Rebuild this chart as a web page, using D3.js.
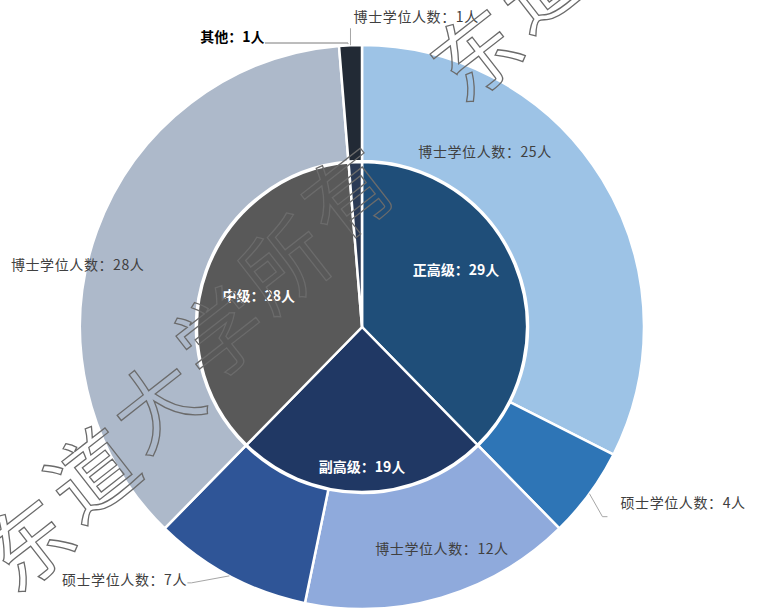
<!DOCTYPE html>
<html>
<head>
<meta charset="utf-8">
<script src="https://cdn.jsdelivr.net/npm/d3@7"></script>
<style>
  body { margin: 0; background: #fff; }
  svg { font-family: "Noto Sans CJK SC", "Noto Sans", sans-serif; }
</style>
</head>
<body>
<svg width="758" height="610"></svg>
<script>
// inner ring: 职称
const levels = ["正高级", "副高级", "中级", "其他"];
const levelCounts = [29, 19, 28, 1];
const levelColors = ["#1f4e79", "#203864", "#595959", "#2b3a55"];

// outer ring: 学位
const degreeNames = ["博士学位人数", "硕士学位人数", "博士学位人数", "硕士学位人数", "博士学位人数", "博士学位人数"];
const degreeCounts = [25, 4, 12, 7, 28, 1];
const degreeColors = ["#9dc3e6", "#2e75b6", "#8faadc", "#2f5597", "#adb9ca", "#222a35"];

const watermark = ["东", "道", "大", "学", "所", "有", "", "东", "道"];

const svg = d3.select("svg");
const cx = 362, cy = 327;
const rInner = 165, rOuter = 282;

const root = svg.append("g").attr("transform", `translate(${cx},${cy})`);

const pie = d3.pie().sort(null).value(d => d);
const innerArcs = pie(levelCounts);
const outerArcs = pie(degreeCounts);

const innerArc = d3.arc().innerRadius(0).outerRadius(rInner);
const outerArc = d3.arc().innerRadius(rInner + 1).outerRadius(rOuter);

const toXY = (deg, r) => {
  const a = deg * Math.PI / 180;
  return [r * Math.sin(a), -r * Math.cos(a)];
};
const midDeg = d => (d.startAngle + d.endAngle) / 2 * 180 / Math.PI;

// 其他 leader line (drawn under the rings)
{
  const d = innerArcs[3];
  const p = toXY(midDeg(d), rInner - 6);
  root.append("polyline")
    .attr("points", [[-97, -284], [-14, -284], p].map(q => q.join(",")).join(" "))
    .attr("fill", "none")
    .attr("stroke", "#a6a6a6")
    .attr("stroke-width", 1);
}

/* outer ring */
root.selectAll(".outer")
  .data(outerArcs)
  .enter().append("path")
  .attr("class", "outer")
  .attr("d", outerArc)
  .attr("fill", (d, i) => degreeColors[i])
  .attr("stroke", "#fff")
  .attr("stroke-width", 2.5);

/* inner pie */
root.selectAll(".inner")
  .data(innerArcs)
  .enter().append("path")
  .attr("class", "inner")
  .attr("d", innerArc)
  .attr("fill", (d, i) => levelColors[i])
  .attr("stroke", "#fff")
  .attr("stroke-width", 2.5);

// redraw the horizontal part of 其他 leader on top
root.append("line")
  .attr("x1", -97).attr("y1", -284)
  .attr("x2", -14).attr("y2", -284)
  .attr("stroke", "#a6a6a6")
  .attr("stroke-width", 1);

/* inner labels */
const innerLabelR = [110, 140, 108];
root.selectAll(".innerLabel")
  .data(innerArcs.slice(0, 3))
  .enter().append("text")
  .attr("class", "innerLabel")
  .attr("transform", (d, i) => {
    const deg = midDeg(d) + [-9, 0, -3][i];
    return `translate(${toXY(deg, innerLabelR[i])})`;
  })
  .attr("text-anchor", "middle")
  .attr("dy", "0.35em")
  .attr("fill", "#fff")
  .attr("font-weight", "bold")
  .attr("font-size", 14)
  .text((d, i) => `${levels[i]}：${levelCounts[i]}人`);

root.append("text")
  .attr("x", toXY(midDeg(innerArcs[3]), rInner)[0] - 123)
  .attr("y", -290)
  .attr("text-anchor", "middle")
  .attr("dy", "0.35em")
  .attr("fill", "#000")
  .attr("font-weight", "bold")
  .attr("font-size", 14)
  .text(`${levels[3]}：${levelCounts[3]}人`);

/* outer labels: polar placement [deg, radius] */
const outerLabelPos = [[35.1, 214], [118.7, 366], [160.2, 236], [223.2, 347], [282.3, 291], [9.9, 315]];
root.selectAll(".outerLabel")
  .data(outerArcs)
  .enter().append("text")
  .attr("class", "outerLabel")
  .attr("transform", (d, i) => `translate(${toXY(outerLabelPos[i][0], outerLabelPos[i][1])})`)
  .attr("text-anchor", "middle")
  .attr("dy", "0.35em")
  .attr("fill", "#404040")
  .attr("font-size", 14)
  .attr("letter-spacing", 0.6)
  .text((d, i) => `${degreeNames[i]}：${degreeCounts[i]}人`);

/* leader lines for small outer slices */
const leader = (pts) => root.append("polyline")
  .attr("points", pts.map(q => q.join(",")).join(" "))
  .attr("fill", "none")
  .attr("stroke", "#a6a6a6")
  .attr("stroke-width", 1);

{
  const p1 = toXY(midDeg(outerArcs[1]), rOuter);
  leader([p1, [p1[0] + 13, p1[1] + 23], [p1[0] + 18, p1[1] + 23]]);
  const p3 = toXY(midDeg(outerArcs[3]), rOuter);
  leader([p3, [p3[0] - 38, p3[1] + 7], [p3[0] - 42, p3[1] + 7]]);
  const p5 = toXY(midDeg(outerArcs[5]), rOuter);
  leader([p5, [p5[0], p5[1] - 17]]);
}

/* watermark: characters laid along a diagonal */
svg.append("g").selectAll("text")
  .data(watermark)
  .enter().append("text")
  .attr("transform", (c, i) => `translate(${25 + i * 64},${540 - i * 70}) rotate(-38)`)
  .attr("text-anchor", "middle")
  .attr("dominant-baseline", "central")
  .attr("font-size", 86)
  .attr("fill", "none")
  .attr("stroke", "#6b6b6b")
  .attr("stroke-width", 1.3)
  .text(c => c);
</script>
</body>
</html>
